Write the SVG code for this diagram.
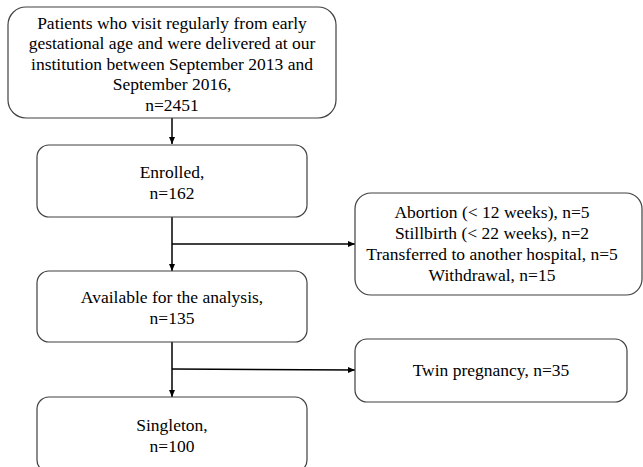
<svg xmlns="http://www.w3.org/2000/svg" width="643" height="467" viewBox="0 0 643 467">
<defs>
<marker id="ah" markerWidth="8" markerHeight="8" refX="7" refY="4" orient="auto" markerUnits="userSpaceOnUse">
<path d="M0,1 L7,4 L0,7 Z" fill="#000"/>
</marker>
<style>
.box{fill:#fff;stroke:#404040;stroke-width:1.2}
text{font-family:'Liberation Serif','Times New Roman','DejaVu Serif',serif;font-size:17.5px;fill:#000;text-anchor:middle}
.ln{stroke:#000;stroke-width:1.5;fill:none}
</style>
</defs>
<rect width="643" height="467" fill="#fff"/>
<g id="connectors">
<line class="ln" x1="172" y1="118" x2="172" y2="144" marker-end="url(#ah)"/>
<line class="ln" x1="172" y1="217" x2="172" y2="271" marker-end="url(#ah)"/>
<line class="ln" x1="172" y1="244" x2="355" y2="244" marker-end="url(#ah)"/>
<line class="ln" x1="172" y1="342" x2="172" y2="397" marker-end="url(#ah)"/>
<line class="ln" x1="172" y1="369" x2="355" y2="370" marker-end="url(#ah)"/>
</g>
<g id="n1" font-family="Liberation Serif, serif">
<rect class="box" x="8" y="7" width="328" height="111" rx="18"/>
<text x="172" y="29">Patients who visit regularly from early</text>
<text x="172" y="49">gestational age and were delivered at our</text>
<text x="172" y="70">institution between September 2013 and</text>
<text x="172" y="90">September 2016,</text>
<text x="172" y="111">n=2451</text>
</g>
<g id="n2">
<rect class="box" x="37" y="145" width="270" height="72" rx="12"/>
<text x="172" y="178">Enrolled,</text>
<text x="172" y="199">n=162</text>
</g>
<g id="n3">
<rect class="box" x="355" y="193" width="287" height="102" rx="16"/>
<text x="492" y="218">Abortion (&lt; 12 weeks), n=5</text>
<text x="492" y="239">Stillbirth  (&lt; 22 weeks), n=2</text>
<text x="492" y="260">Transferred to another hospital, n=5</text>
<text x="492" y="281">Withdrawal, n=15</text>
</g>
<g id="n4">
<rect class="box" x="37" y="271" width="270" height="71" rx="12"/>
<text x="172" y="303">Available  for the analysis,</text>
<text x="172" y="324">n=135</text>
</g>
<g id="n5">
<rect class="box" x="355" y="339" width="272" height="63" rx="12"/>
<text x="491" y="376">Twin pregnancy, n=35</text>
</g>
<g id="n6">
<rect class="box" x="37" y="397" width="270" height="75" rx="12"/>
<text x="172" y="431">Singleton,</text>
<text x="172" y="452">n=100</text>
</g>
</svg>
